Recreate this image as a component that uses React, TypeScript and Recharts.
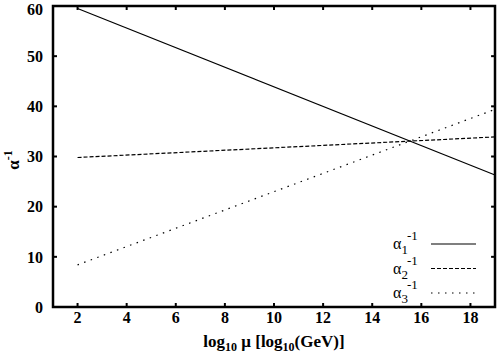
import { Line, LineChart, ReferenceArea, ReferenceLine, XAxis, YAxis } from "recharts";

// log10 of the scale (GeV) at the two ends of each running line
const logMu = [2, 19];
const alpha1Inv = [59.5, 26.3];
const alpha2Inv = [29.8, 33.9];
const alpha3Inv = [8.4, 39.4];

const xTicks = [2, 4, 6, 8, 10, 12, 14, 16, 18];
const yTicks = [0, 10, 20, 30, 40, 50, 60];

const data = logMu.map((mu, i) => ({
  mu,
  a1: alpha1Inv[i],
  a2: alpha2Inv[i],
  a3: alpha3Inv[i],
}));

const X_MIN = 1;
const X_MAX = 19;
const Y_MIN = 0;
const Y_MAX = 60;

const font = "'Liberation Serif', 'DejaVu Serif', serif";
const tickStyle = { fontSize: 16, fontWeight: 700, fontFamily: font, fill: "#000" };

const series = [
  { key: "a1", sub: "1", dash: undefined },
  { key: "a2", sub: "2", dash: "4 2" },
  { key: "a3", sub: "3", dash: "1.5 5.5" },
];

const AlphaLegend = () => (
  <svg width={110} height={90} style={{ display: "block" }}>
    {series.map((s, i) => {
      const y = 18 + i * 24.5;
      return (
        <g key={s.key}>
          <text x={13} y={y + 5} fontFamily={font} fontSize={16} fill="#000">
            α
            <tspan fontSize={13} dy={5}>{s.sub}</tspan>
            <tspan fontSize={13} dy={-14} dx={-1}>-1</tspan>
          </text>
          <line
            x1={51}
            x2={96}
            y1={y}
            y2={y}
            stroke="#000"
            strokeWidth={1.2}
            strokeDasharray={s.dash}
          />
        </g>
      );
    })}
  </svg>
);

const tickLine = { stroke: "#000", strokeWidth: 2 };

export default function App() {
  return (
    <div style={{ position: "absolute", left: 0, top: 0, width: 498, height: 360, background: "#fff" }}>
      <LineChart
        width={498}
        height={360}
        data={data}
        margin={{ top: 6, right: 3, left: 8, bottom: 28 }}
      >
        <XAxis
          dataKey="mu"
          type="number"
          domain={[X_MIN, X_MAX]}
          ticks={xTicks}
          height={25}
          tick={tickStyle}
          tickSize={-4}
          tickMargin={9}
          axisLine={false}
          tickLine={tickLine}
        />
        <YAxis
          type="number"
          domain={[Y_MIN, Y_MAX]}
          ticks={yTicks}
          width={45}
          tick={tickStyle}
          tickSize={-4}
          tickMargin={14}
          axisLine={false}
          tickLine={tickLine}
          label={{
            content: () => (
              <text
                transform="translate(19 160) rotate(-90)"
                textAnchor="middle"
                fontFamily={font}
                fontSize={17}
                fontWeight={700}
                fill="#000"
              >
                α<tspan fontSize={12} dy={-7}>-1</tspan>
              </text>
            ),
          }}
        />
        {/* mirrored inward ticks on the top and right edges */}
        {xTicks.map((t) => (
          <ReferenceLine
            key={"tx" + t}
            segment={[{ x: t, y: Y_MAX }, { x: t, y: Y_MAX - 0.8 }]}
            stroke="#000"
            strokeWidth={2}
          />
        ))}
        {yTicks.map((t) => (
          <ReferenceLine
            key={"ty" + t}
            segment={[{ x: X_MAX, y: t }, { x: X_MAX - 0.16, y: t }]}
            stroke="#000"
            strokeWidth={2}
          />
        ))}
        {series.map((s) => (
          <Line
            key={s.key}
            dataKey={s.key}
            type="linear"
            stroke="#000"
            strokeWidth={1.2}
            strokeDasharray={s.dash}
            dot={false}
            isAnimationActive={false}
          />
        ))}
        <ReferenceArea
          x1={X_MIN}
          x2={X_MAX}
          y1={Y_MIN}
          y2={Y_MAX}
          fill="none"
          fillOpacity={0}
          stroke="#000"
          strokeWidth={2.5}
          strokeOpacity={1}
        />
      </LineChart>
      <div style={{ position: "absolute", left: 380, top: 226 }}>
        <AlphaLegend />
      </div>
      <div
        style={{
          position: "absolute",
          left: 0,
          top: 332,
          width: 548,
          textAlign: "center",
          fontFamily: font,
          fontWeight: 700,
          fontSize: 17,
          lineHeight: "20px",
          color: "#000",
        }}
      >
        log<sub style={{ fontSize: 12 }}>10</sub> μ [log<sub style={{ fontSize: 12 }}>10</sub>(GeV)]
      </div>
    </div>
  );
}
